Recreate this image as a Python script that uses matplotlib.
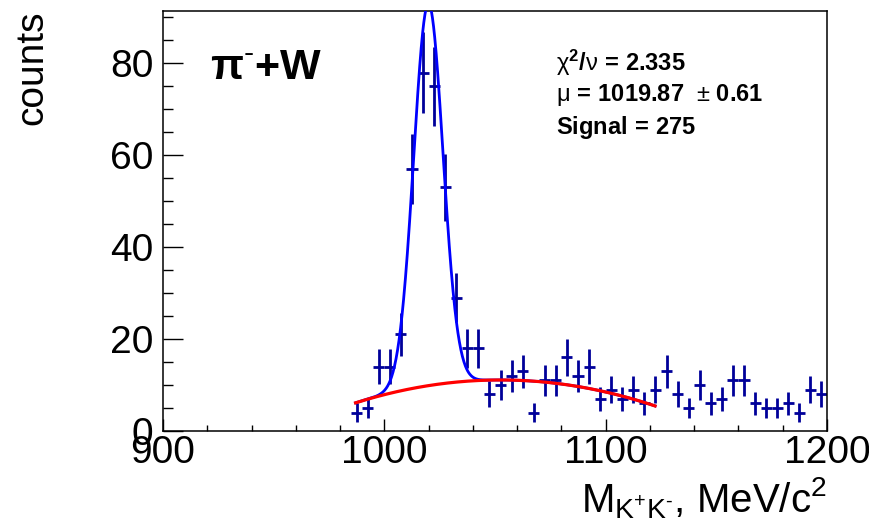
import numpy as np
import matplotlib
matplotlib.use("Agg")
import matplotlib.pyplot as plt
from matplotlib.ticker import MultipleLocator

plt.rcParams['font.family'] = ['Liberation Sans', 'DejaVu Sans']
plt.rcParams['mathtext.fontset'] = 'custom'
plt.rcParams['mathtext.rm'] = 'Liberation Sans'
plt.rcParams['mathtext.it'] = 'Liberation Sans:italic'
plt.rcParams['mathtext.bf'] = 'Liberation Sans:bold'

# K+K- invariant mass histogram, 5 MeV bins
bin_width = 5.0
bin_centers = np.arange(987.5, 1200.0, bin_width)
counts = np.array([4, 5, 14, 14, 21, 57, 78, 75, 53, 29,
                   18, 18, 8, 10, 12, 13, 4, 11, 11, 16,
                   12, 14, 7, 9, 7, 9, 6, 9, 13, 8,
                   5, 10, 6, 7, 11, 11, 6, 5, 5, 6,
                   4, 9, 8])

# Fit results: Gaussian signal on a quadratic background
chi2_ndf = 2.335
mu = 1019.87
mu_err = 0.61
signal = 275
sigma = 6.6
bg_peak = 11.1
bg_vertex = 1052.5
bg_curv = 0.00116
fit_lo, fit_hi = 987.0, 1122.3

def background(m):
    return bg_peak - bg_curv * (m - bg_vertex) ** 2

def gauss(m):
    amp = signal * bin_width / (sigma * np.sqrt(2 * np.pi))
    return amp * np.exp(-0.5 * ((m - mu) / sigma) ** 2)

fig = plt.figure(figsize=(8.7, 5.27), dpi=100)
ax = fig.add_axes([0.1874, 0.1822, 0.7632, 0.7970])

ax.errorbar(bin_centers, counts, yerr=np.sqrt(counts), xerr=bin_width / 2,
            fmt='none', ecolor='#000099', elinewidth=2.0, capsize=0, zorder=2)

m = np.linspace(fit_lo, fit_hi, 800)
ax.plot(m, gauss(m) + background(m), color='#0000ff', lw=2.0, zorder=3)
ax.plot(m, background(m), color='#ff0000', lw=2.3, zorder=4)

ax.set_xlim(900, 1200)
ax.set_ylim(0, 91.4)
ax.xaxis.set_major_locator(MultipleLocator(100))
ax.xaxis.set_minor_locator(MultipleLocator(20))
ax.yaxis.set_major_locator(MultipleLocator(20))
ax.yaxis.set_minor_locator(MultipleLocator(5))
ax.tick_params(axis='both', which='both', direction='in', labelsize=28,
               width=1.0, colors='black')
ax.tick_params(axis='x', which='major', length=9, pad=3)
ax.tick_params(axis='x', which='minor', length=4.5)
ax.tick_params(axis='y', which='major', length=14.4, pad=7)
ax.tick_params(axis='y', which='minor', length=7.2)
for s in ax.spines.values():
    s.set_linewidth(1.1)

ax.set_xlabel(r'$\mathrm{M_{K^{+}K^{\text{-}}}{,}\ MeV/c^{2}}$', fontsize=29,
              loc='right', labelpad=3)
ax.set_ylabel('counts', fontsize=28, loc='top', labelpad=43)

ax.text(0.07, 0.865, r'$\mathbf{\pi^{\text{-}}{+}W}$', transform=ax.transAxes,
        fontsize=31, ha='left', va='center')

stats = [r'$\mathrm{\chi}^{\mathbf{2}}\mathbf{/}\mathrm{\nu}\mathbf{\,=\,%.3f}$' % chi2_ndf,
         r'$\mathrm{\mu}\mathbf{\,=\,%.2f}\ \ \mathrm{\pm}\ \mathbf{%.2f}$' % (mu, mu_err),
         r'$\mathbf{Signal\,=\,%d}$' % signal]
for i, s in enumerate(stats):
    ax.text(0.592, 0.876 - i * 0.077, s, transform=ax.transAxes,
            fontsize=17, ha='left', va='center')

fig.savefig('out.png', dpi=100, facecolor='white')
